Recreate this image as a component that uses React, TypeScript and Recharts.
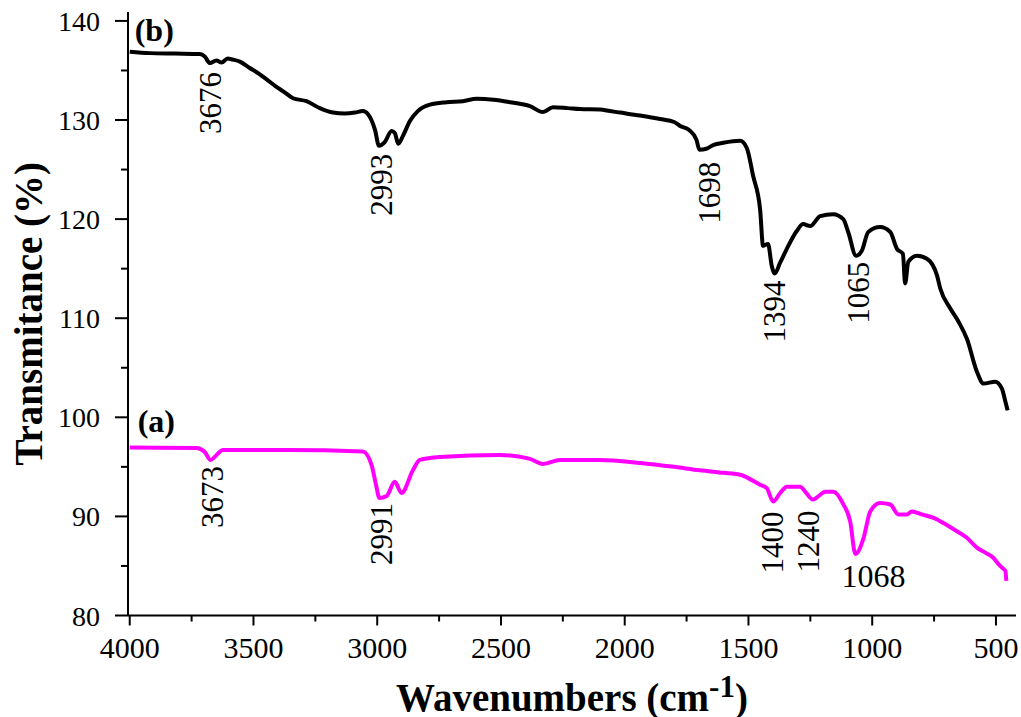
import { Line, LineChart, ReferenceDot, XAxis, YAxis } from 'recharts'

// FTIR spectra, (b) upper black trace, (a) lower magenta trace
const bWavenumber = [
  4000, 3919, 3818, 3717, 3697, 3676, 3650, 3629, 3604, 3584, 3555, 3515, 3480, 3447, 3410, 3380,
  3340, 3286, 3232, 3179, 3131, 3090, 3058, 3038, 3009, 2993, 2969, 2942, 2929, 2915, 2896, 2868,
  2836, 2787, 2720, 2654, 2598, 2530, 2464, 2383, 2330, 2290, 2230, 2181, 2100, 2060, 2019, 1938,
  1857, 1800, 1776, 1740, 1710, 1698, 1670, 1640, 1602, 1534, 1507, 1481, 1453, 1441, 1421, 1406,
  1394, 1372, 1345, 1305, 1279, 1251, 1210, 1158, 1117, 1097, 1065, 1042, 1016, 968, 927, 900, 876,
  867, 854, 819, 779, 738, 725, 685, 650, 617, 577, 550, 503, 476, 462, 453,
]
const bTransmittance = [
  136.9, 136.75, 136.7, 136.65, 136.4, 135.75, 136.0, 135.8, 136.2, 136.1, 135.9, 135.25, 134.7,
  134.1, 133.4, 132.9, 132.2, 131.9, 131.2, 130.75, 130.65, 130.75, 130.9, 130.6, 129.0, 127.4,
  127.8, 128.9, 128.7, 127.6, 128.4, 129.9, 130.9, 131.55, 131.8, 131.9, 132.15, 132.05, 131.8,
  131.4, 130.8, 131.3, 131.2, 131.1, 131.05, 130.9, 130.75, 130.45, 130.1, 129.8, 129.4, 129.0,
  128.0, 127.0, 127.1, 127.5, 127.7, 127.9, 127.2, 124.35, 121.0, 117.3, 117.5, 115.3, 114.5, 115.6,
  117.0, 118.8, 119.5, 119.3, 120.3, 120.5, 120.0, 118.7, 116.3, 116.8, 118.7, 119.2, 118.7, 117.0,
  116.5, 113.5, 115.7, 116.3, 116.0, 114.3, 113.0, 111.0, 109.6, 107.9, 104.6, 103.4, 103.6, 102.9,
  101.6, 100.7,
]

const aWavenumber = [
  4000, 3730, 3697, 3673, 3649, 3624, 3366, 3058, 3023, 3005, 2991, 2962, 2929, 2902, 2855, 2828,
  2747, 2504, 2383, 2330, 2262, 2100, 1938, 1800, 1696, 1600, 1534, 1453, 1426, 1400, 1372, 1345,
  1291, 1271, 1240, 1224, 1190, 1157, 1116, 1089, 1068, 1035, 1008, 968, 927, 894, 860, 840, 800,
  752, 710, 671, 620, 577, 540, 510, 483, 470, 462, 458,
]
const aTransmittance = [
  96.95, 96.9, 96.5, 95.7, 96.2, 96.7, 96.7, 96.55, 95.2, 93.2, 91.85, 92.06, 93.5, 92.36, 94.7,
  95.7, 96.0, 96.2, 95.8, 95.3, 95.7, 95.7, 95.4, 95.0, 94.65, 94.4, 94.2, 93.2, 92.85, 91.5, 92.36,
  93.0, 93.0, 92.5, 91.7, 91.9, 92.5, 92.5, 91.2, 89.5, 86.2, 87.8, 90.5, 91.35, 91.2, 90.2, 90.2,
  90.5, 90.2, 89.85, 89.3, 88.7, 87.9, 86.85, 86.3, 85.8, 85.0, 84.7, 84.5, 83.5,
]

const bPeaks = [3676, 2993, 1698, 1394, 1065]
const aPeaks = [3673, 2991, 1400, 1240, 1068]

const xTicks = [500, 750, 1000, 1250, 1500, 1750, 2000, 2250, 2500, 2750, 3000, 3250, 3500, 3750, 4000]
const yTicks = [80, 85, 90, 95, 100, 105, 110, 115, 120, 125, 130, 135, 140]

const bData = bWavenumber.map((wn, i) => ({ wn, t: bTransmittance[i] }))
const aData = aWavenumber.map((wn, i) => ({ wn, t: aTransmittance[i] }))

const SERIF = 'Liberation Serif'
const MAGENTA = '#ff00ff'

// where each peak number sits relative to its minimum (px)
const tagLayout: Record<number, { dx: number; gap: number; flat?: boolean }> = {
  3676: { dx: 1, gap: 9 },
  2993: { dx: 3, gap: 8 },
  1698: { dx: 10, gap: 12 },
  1394: { dx: 0, gap: 7 },
  1065: { dx: 2, gap: 6 },
  3673: { dx: 2, gap: 6 },
  2991: { dx: 2, gap: 5 },
  1400: { dx: -1, gap: 10 },
  1240: { dx: -4, gap: 11 },
  1068: { dx: 18, gap: 33, flat: true },
}

const panelTags = [
  { text: '(b)', wn: 3980, t: 138.0 },
  { text: '(a)', wn: 3968, t: 98.5 },
]

const valueAt = (data: { wn: number; t: number }[], wn: number) =>
  data.find((p) => p.wn === wn)?.t ?? 0

const peakTag = (wn: number) => (props: any) => {
  const { cx, cy } = props
  const { dx, gap, flat } = tagLayout[wn]
  const x = cx + dx
  const y = cy + gap
  if (flat) {
    return (
      <text x={x} y={y} textAnchor="middle" fontFamily={SERIF} fontSize={32} fill="#000">
        {wn}
      </text>
    )
  }
  return (
    <text
      x={x}
      y={y}
      transform={`rotate(-90 ${x} ${y})`}
      textAnchor="end"
      dominantBaseline="central"
      fontFamily={SERIF}
      fontSize={31}
      fill="#000"
    >
      {wn}
    </text>
  )
}

const panelTag = (text: string) => (props: any) => (
  <text x={props.cx} y={props.cy} fontFamily={SERIF} fontWeight="bold" fontSize={32} fill="#000">
    {text}
  </text>
)

const XTick = (props: any) => {
  const { x, y, payload } = props
  const major = payload.value % 500 === 0
  return (
    <g>
      <line x1={x} y1={y} x2={x} y2={y + (major ? 10 : 6)} stroke="#000" strokeWidth={2} />
      {major && (
        <text x={x} y={y + 42} textAnchor="middle" fontFamily={SERIF} fontSize={30} fill="#000">
          {payload.value}
        </text>
      )}
    </g>
  )
}

const YTick = (props: any) => {
  const { x, y, payload } = props
  const major = payload.value % 10 === 0
  return (
    <g>
      <line x1={x} y1={y} x2={x - (major ? 13 : 7)} y2={y} stroke="#000" strokeWidth={2} />
      {major && (
        <text x={x - 28} y={y + 10} textAnchor="end" fontFamily={SERIF} fontSize={28} fill="#000">
          {payload.value}
        </text>
      )}
    </g>
  )
}

const xTitle = (props: any) => {
  const { x, y, width } = props.viewBox
  return (
    <text x={x + width / 2} y={y + 95} textAnchor="middle" fontFamily={SERIF} fontWeight="bold" fontSize={39} fill="#000">
      Wavenumbers (cm
      <tspan dy={-14} fontSize={31}>-1</tspan>
      <tspan dy={14}>)</tspan>
    </text>
  )
}

const yTitle = (props: any) => {
  const { y, height } = props.viewBox
  const cx = 28
  const cy = y + height / 2
  return (
    <text
      x={cx}
      y={cy}
      transform={`rotate(-90 ${cx} ${cy})`}
      textAnchor="middle"
      dominantBaseline="central"
      fontFamily={SERIF}
      fontWeight="bold"
      fontSize={39}
      fill="#000"
    >
      Transmitance (%)
    </text>
  )
}

const axisStroke = { stroke: '#000', strokeWidth: 2 }

export default function App() {
  return (
    <div style={{ position: 'fixed', left: 0, top: 0, width: 1021, height: 717, overflow: 'hidden', background: '#fff' }}>
      <LineChart width={1021} height={717} margin={{ top: 12, right: 5, left: 58, bottom: 11.5 }}>
        <XAxis
          dataKey="wn"
          type="number"
          domain={[419, 4007]}
          reversed
          allowDataOverflow
          ticks={xTicks}
          interval={0}
          tickSize={0}
          tickMargin={0}
          height={90}
          axisLine={axisStroke}
          tick={<XTick />}
          label={xTitle}
        />
        <XAxis
          xAxisId="top"
          orientation="top"
          type="number"
          domain={[419, 4007]}
          reversed
          height={0}
          tick={false}
          tickLine={false}
          axisLine={axisStroke}
        />
        <YAxis
          type="number"
          domain={[80, 140.9]}
          allowDataOverflow
          ticks={yTicks}
          interval={0}
          tickSize={0}
          tickMargin={0}
          width={70}
          axisLine={axisStroke}
          tick={<YTick />}
          label={yTitle}
        />
        <YAxis
          yAxisId="right"
          orientation="right"
          type="number"
          domain={[80, 140.9]}
          width={0}
          tick={false}
          tickLine={false}
          axisLine={axisStroke}
        />
        <Line
          data={bData}
          dataKey="t"
          type="monotone"
          stroke="#000"
          strokeWidth={4}
          strokeLinejoin="round"
          dot={false}
          isAnimationActive={false}
        />
        <Line
          data={aData}
          dataKey="t"
          type="monotone"
          stroke={MAGENTA}
          strokeWidth={4}
          strokeLinejoin="round"
          dot={false}
          isAnimationActive={false}
        />
        {bPeaks.map((wn) => (
          <ReferenceDot key={`b${wn}`} x={wn} y={valueAt(bData, wn)} r={0} shape={peakTag(wn)} />
        ))}
        {aPeaks.map((wn) => (
          <ReferenceDot key={`a${wn}`} x={wn} y={valueAt(aData, wn)} r={0} shape={peakTag(wn)} />
        ))}
        {panelTags.map((p) => (
          <ReferenceDot key={p.text} x={p.wn} y={p.t} r={0} shape={panelTag(p.text)} />
        ))}
      </LineChart>
    </div>
  )
}
